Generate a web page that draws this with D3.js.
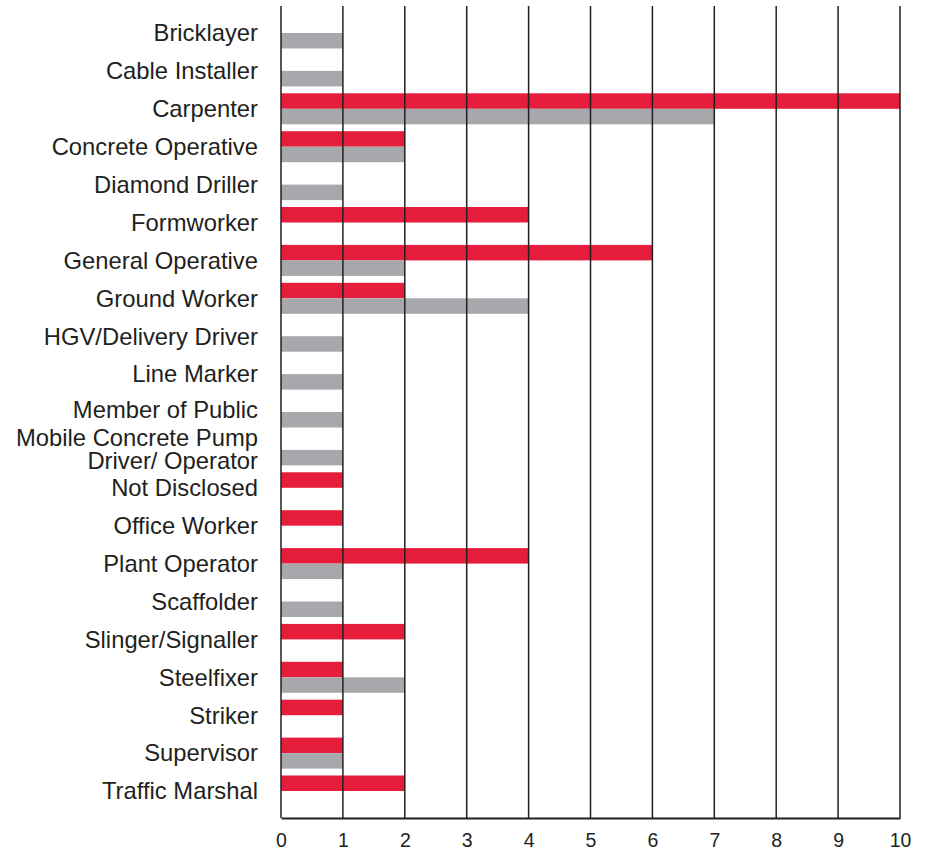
<!DOCTYPE html>
<html><head><meta charset="utf-8">
<script src="https://cdn.jsdelivr.net/npm/d3@7"></script>
<style>body{margin:0;background:#fff}svg{display:block}</style>
</head><body><div id="chart"></div>
<script>
const categories = ["Bricklayer","Cable Installer","Carpenter","Concrete Operative","Diamond Driller","Formworker","General Operative","Ground Worker","HGV/Delivery Driver","Line Marker","Member of Public","Mobile Concrete Pump\nDriver/ Operator","Not Disclosed","Office Worker","Plant Operator","Scaffolder","Slinger/Signaller","Steelfixer","Striker","Supervisor","Traffic Marshal"];
const redValues  = [0,0,10,2,0,4,6,2,0,0,0,0,1,1,4,0,2,1,1,1,2];
const greyValues = [1,1,7,2,1,0,2,4,1,1,1,1,0,0,1,1,0,2,0,1,0];
const xTicks = [0,1,2,3,4,5,6,7,8,9,10];

const W = 930, H = 850;
const svg = d3.select("#chart").append("svg").attr("width", W).attr("height", H);
const x = d3.scaleLinear().domain([0,10]).range([281,900]);
const y = d3.scaleBand().domain(categories).range([14.05, 14.05 + 21*37.9]).padding(0);
const barH = 15.5;
const center = c => y(c) + y.bandwidth()/2;

const red = "#e61e3c", grey = "#a7a8ab", ink = "#231f20";
const font = "'Liberation Sans', Arial, Helvetica, sans-serif";

// bars
svg.append("g").selectAll("rect.red").data(categories).join("rect")
  .attr("x", x(0)).attr("y", c => center(c) - barH)
  .attr("width", (c,i) => x(redValues[i]) - x(0)).attr("height", barH)
  .attr("fill", red);
svg.append("g").selectAll("rect.grey").data(categories).join("rect")
  .attr("x", x(0)).attr("y", c => center(c))
  .attr("width", (c,i) => x(greyValues[i]) - x(0)).attr("height", barH)
  .attr("fill", grey);

// gridlines
const yTop = 6, yBot = 818;
svg.append("g").selectAll("line").data(xTicks).join("line")
  .attr("x1", d => x(d)).attr("x2", d => x(d))
  .attr("y1", yTop).attr("y2", yBot)
  .attr("stroke", ink).attr("stroke-width", 1.5);

// x axis
const xAxis = d3.axisBottom(x).tickValues(xTicks).tickSize(0).tickPadding(15);
const gx = svg.append("g").attr("transform", `translate(0,${yBot})`).call(xAxis);
gx.select(".domain").attr("stroke", ink).attr("stroke-width", 2);
gx.selectAll("text").attr("font-family", font).attr("font-size", 19.5).attr("fill", ink);

// category labels
const gl = svg.append("g");
categories.forEach((c, i) => {
  const lines = c.split("\n");
  const t = gl.append("text").attr("text-anchor","end")
    .attr("font-family", font).attr("font-size", 23.8).attr("fill", ink);
  const cy = center(c) + (lines.length > 1 ? -1 : 0) + (c === "Member of Public" ? -2 : 0);
  const lh = 23;
  lines.forEach((ln, k) => {
    t.append("tspan").attr("x", 258)
      .attr("y", cy + (k - (lines.length-1)/2) * lh)
      .attr("dy", "0.35em").text(ln);
  });
});
</script></body></html>
